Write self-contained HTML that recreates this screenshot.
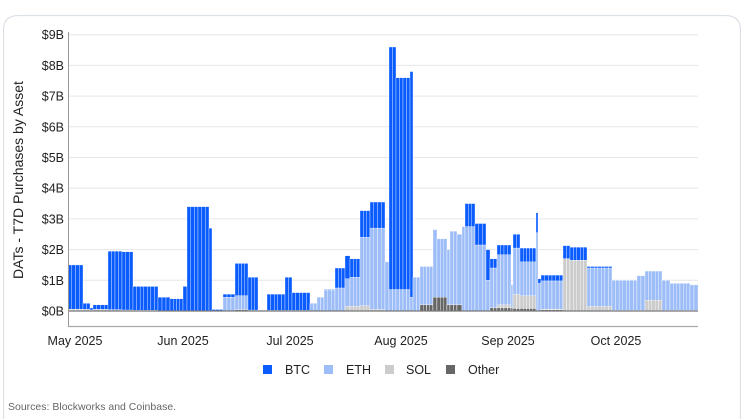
<!DOCTYPE html>
<html><head><meta charset="utf-8"><style>
html,body{margin:0;padding:0;background:#fff;width:756px;height:419px;overflow:hidden}
svg{display:block;font-family:"Liberation Sans",Arial,sans-serif}
</style></head><body>
<svg id="s" width="756" height="419" viewBox="0 0 756 419">
<path d="M3.5,419 L3.5,30.5 Q3.5,15.5 18.5,15.5 L725.5,15.5 Q740.5,15.5 740.5,30.5 L740.5,419" fill="#fff" stroke="#dde2e8" stroke-width="1.2"/>
<g id="grid" stroke="#e6e6e6" stroke-width="1"></g>
<g id="bars"></g>
<line x1="68" y1="311" x2="698" y2="311" stroke="#777" stroke-width="1.2"/>
<line x1="68.5" y1="32" x2="68.5" y2="326" stroke="#999" stroke-width="1"/>
<line x1="68" y1="326.5" x2="698" y2="326.5" stroke="#aaa" stroke-width="1.2"/>
<g id="ylab" font-size="12.5" fill="#222" text-anchor="end"></g>
<text transform="translate(23,180) rotate(-90)" text-anchor="middle" font-size="14" fill="#222">DATs - T7D Purchases by Asset</text>
<g font-size="12.5" fill="#222" text-anchor="middle">
<text x="75" y="345">May 2025</text><text x="183" y="345">Jun 2025</text><text x="290" y="345">Jul 2025</text><text x="401" y="345">Aug 2025</text><text x="508" y="345">Sep 2025</text><text x="616" y="345">Oct 2025</text>
</g>
<g font-size="12.5" fill="#222">
<rect x="263" y="365" width="9" height="9" fill="#0a5cff"/><text x="285" y="374">BTC</text>
<rect x="324" y="365" width="9" height="9" fill="#9dbdf8"/><text x="346" y="374">ETH</text>
<rect x="385" y="365" width="9" height="9" fill="#cccccc"/><text x="406" y="374">SOL</text>
<rect x="446" y="365" width="9" height="9" fill="#666"/><text x="468" y="374">Other</text>
</g>
<text x="8" y="410" font-size="10.5" fill="#666">Sources: Blockworks and Coinbase.</text>
</svg>
<script>
var NS="http://www.w3.org/2000/svg",K=30.7,Y0=311;
function el(p,t,a){var e=document.createElementNS(NS,t);for(var k in a)e.setAttribute(k,a[k]);p.appendChild(e);return e;}
var g=document.getElementById('grid'),yl=document.getElementById('ylab');
for(var i=1;i<=9;i++){var y=Y0-i*K;el(g,'line',{x1:68,x2:698,y1:y,y2:y});}
for(var i=0;i<=9;i++){var t=el(yl,'text',{x:64,y:Y0-i*K+4.5});t.textContent='$'+i+'B';}
var S=[
[68,83,1.5,0.06,0.06,0.02],[83,90,0.25,0.05,0.05,0],[90,93,0.1,0.03,0.03,0],[93,108,0.2,0.05,0.05,0],
[108,122,1.95,0.04,0.04,0],[122,133,1.93,0.03,0.03,0],[133,158,0.8,0.02,0.02,0],[158,170,0.45,0,0,0],
[170,183,0.4,0,0,0],[183,187,0.8,0,0,0],[187,209,3.4,0,0,0],[209,212,2.7,0,0,0],[212,223,0.05,0,0,0],
[223,235,0.55,0.45,0,0],[235,248,1.55,0.5,0.04,0.04],[248,258,1.1,0.03,0,0],[258,267,0.02,0,0,0],
[267,285,0.55,0.02,0,0],[285,292,1.1,0.02,0,0],[292,310,0.6,0.02,0,0],[310,317,0.25,0.25,0,0],
[317,324,0.45,0.45,0,0],[324,335,0.7,0.68,0,0],[335,345,1.4,0.75,0,0],[345,350,1.8,1.05,0.15,0],
[350,360,1.7,1.1,0.15,0],[360,370,3.27,2.4,0.17,0],[370,385,3.55,2.7,0.05,0],[385,389,1.6,1.6,0,0],
[389,396,8.6,0.7,0,0],[396,410,7.6,0.7,0,0],[410,413,7.8,0.45,0,0],[413,420,1.1,1.1,0,0],
[420,433,1.45,1.45,0.2,0.2],[433,437,2.65,2.65,0.45,0.45],[437,447,2.35,2.35,0.45,0.45],[447,450,2.0,2.0,0.2,0.2],
[450,457,2.6,2.6,0.2,0.2],[457,462,2.5,2.5,0.2,0.2],[462,465,2.75,2.75,0,0],[465,475,3.5,2.75,0,0],
[475,486,2.85,2.15,0,0],[486,490,2.0,1.0,0,0],[490,497,1.7,1.4,0.1,0.1],[497,511,2.15,1.83,0.2,0.1],
[511,513,0.85,0.85,0.1,0.1],[513,520,2.5,2.05,0.55,0.08],[520,536,2.05,1.6,0.5,0.08],[536,538,3.2,2.55,0,0],
[538,541,1.05,0.9,0,0],[541,563,1.17,0.98,0.06,0.04],[563,570,2.13,1.7,1.7,0],[570,587,2.08,1.65,1.65,0],
[587,612,1.45,1.4,0.15,0],[612,637,1.0,1.0,0.02,0],[637,645,1.15,1.15,0.02,0],[645,662,1.3,1.3,0.35,0.02],
[662,670,1.0,1.0,0.02,0],[670,690,0.9,0.9,0.02,0],[690,698,0.85,0.85,0.02,0]];
var b=document.getElementById('bars'),C=['#0a5cff','#9dbdf8','#cccccc','#666666'];
S.forEach(function(s){
 var n=Math.max(1,Math.round((s[1]-s[0])/3.55)),w=(s[1]-s[0])/n;
 for(var j=0;j<n;j++){var x=s[0]+j*w;
  for(var k=0;k<4;k++){var v=s[2+k];if(v<=0)continue;
   el(b,'rect',{x:x,y:Y0-v*K,width:w,height:v*K,fill:C[k],stroke:'#fff','stroke-width':0.35});}}
});
</script>
</body></html>
